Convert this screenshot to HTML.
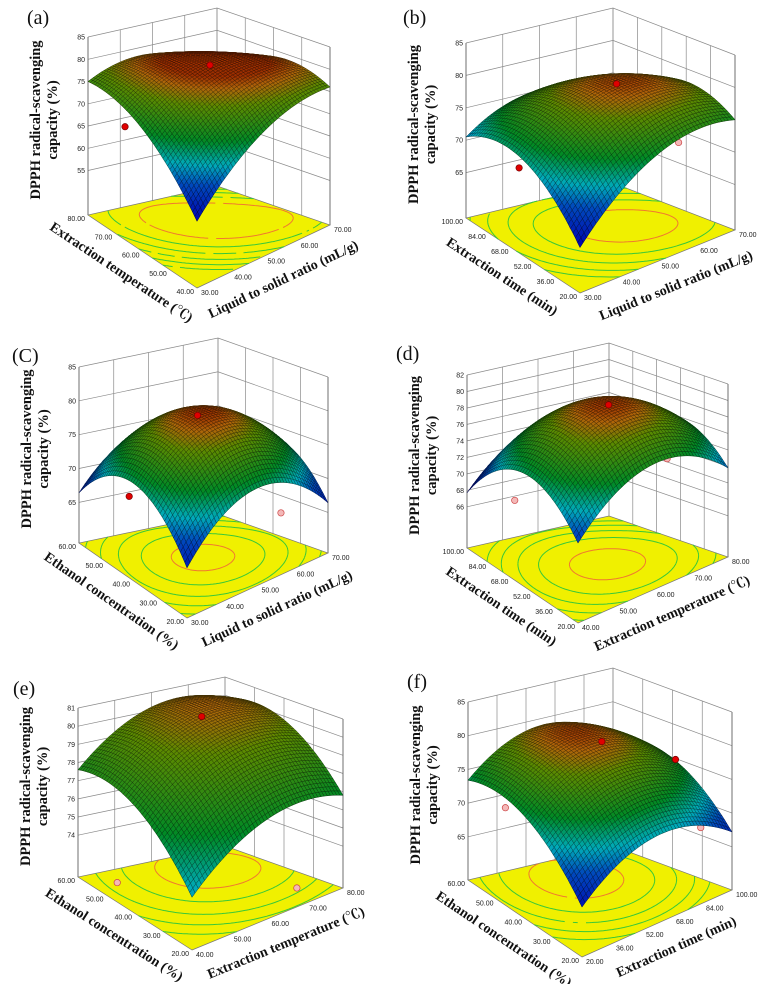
<!DOCTYPE html>
<html><head><meta charset="utf-8">
<style>
html,body{margin:0;padding:0;background:#fff;}
svg{display:block;}
text{font-family:"Liberation Serif","Noto Serif CJK SC",serif;}
.tk{font-family:"Liberation Sans","Noto Sans CJK SC",sans-serif;font-size:7px;fill:#222;}
.ttl{font-weight:bold;font-size:14px;fill:#111;}
.zt{font-weight:bold;font-size:14.5px;fill:#111;}
.pl{font-size:20px;fill:#111;}
</style></head>
<body>
<svg id="fig" width="760" height="984" viewBox="0 0 760 984" xmlns="http://www.w3.org/2000/svg"></svg>
<script>
// ---- data: quadratic model coefficients [a,b,c,d,e,f]: z = a + b u + c v + d u^2 + e v^2 + f u v
const coefA = [60, 36, 35, -20, -20, -20];
const coefB = [65, 28, 25.5, -18, -20, -10];
const coefC = [66.4, 28, 28, -28, -28, 0];
const coefD = [70.7, 21.1, 19, -20, -22, 0];
const coefE = [74.6, 8.2, 9, -6, -6, 0];
const coefF = [66, 21.2, 23.4, -20, -16, 0];
// z-axis ticks
const zTicksA = [55, 60, 65, 70, 75, 80, 85];
const zTicksB = [65, 70, 75, 80, 85];
const zTicksC = [65, 70, 75, 80, 85];
const zTicksD = [66, 68, 70, 72, 74, 76, 78, 80, 82];
const zTicksE = [74, 75, 76, 77, 78, 79, 80, 81];
const zTicksF = [65, 70, 75, 80, 85];
// floor ticks (u: front->right edge, v: front->left edge)
const uTicksA = ["30.00","40.00","50.00","60.00","70.00"];
const vTicksA = ["40.00","50.00","60.00","70.00","80.00"];
const uTicksB = ["30.00","40.00","50.00","60.00","70.00"];
const vTicksB = ["20.00","36.00","52.00","68.00","84.00","100.00"];
const uTicksC = ["30.00","40.00","50.00","60.00","70.00"];
const vTicksC = ["20.00","30.00","40.00","50.00","60.00"];
const uTicksD = ["40.00","50.00","60.00","70.00","80.00"];
const vTicksD = ["20.00","36.00","52.00","68.00","84.00","100.00"];
const uTicksE = ["40.00","50.00","60.00","70.00","80.00"];
const vTicksE = ["20.00","30.00","40.00","50.00","60.00"];
const uTicksF = ["20.00","36.00","52.00","68.00","84.00","100.00"];
const vTicksF = ["20.00","30.00","40.00","50.00","60.00"];
// contour levels
const levelsA = [79, 77, 75, 73, 71, 69];
const levelsB = [79, 77, 75, 73, 71];
const levelsC = [79.5, 77, 74, 71, 68];
const levelsD = [79.5, 77.5, 75.5, 73.5, 71.5];
const levelsE = [80.3, 79.5, 78.5, 77.5, 76.5];
const levelsF = [79, 77, 75, 73, 71];
// design points [u, v, z, onSurface(1)/below(0)]
const dotsA = [[0.6,0.6,79.5,1],[0.05,0.72,69,1],[0.95,0.45,68,0]];
const dotsB = [[0.62,0.5,79.8,1],[0.05,0.6,70,1],[0.95,0.4,69,0]];
const dotsC = [[0.5,0.55,79.5,1],[0.05,0.6,70,1],[0.9,0.3,64,0]];
const dotsD = [[0.55,0.45,80,1],[0.1,0.7,69,0],[0.95,0.45,71,0]];
const dotsE = [[0.62,0.72,80.3,1],[0.15,0.85,71.7,0],[0.85,0.2,71.7,0]];
const dotsF = [[0.6,0.6,79.5,1],[0.9,0.35,76.5,1],[0.1,0.8,71,0],[0.95,0.2,67,0]];
// colour ranges
const cRangeA=[60,80], cRangeB=[65,80.5], cRangeC=[65,80.5], cRangeD=[68,80.5], cRangeE=[70,81.5], cRangeF=[65,80.5];

const NS="http://www.w3.org/2000/svg";
const svg=document.getElementById('fig');
function el(tag,attrs,parent){const e=document.createElementNS(NS,tag);for(const k in attrs)e.setAttribute(k,attrs[k]);(parent||svg).appendChild(e);return e;}

const stops=[[0,[0,0,190]],[0.28,[0,80,205]],[0.43,[0,185,200]],[0.6,[0,150,40]],[0.84,[100,150,0]],[0.94,[190,110,10]],[1,[170,50,0]]];
function cmap(t){t=Math.max(0,Math.min(1,t));for(let i=1;i<stops.length;i++){if(t<=stops[i][0]){const s0=stops[i-1],s1=stops[i];const f=(t-s0[0])/(s1[0]-s0[0]);return s0[1].map((c,k)=>c+(s1[1][k]-c)*f);}}return stops[stops.length-1][1];}
function rgb(c,m){return 'rgb('+c.map(x=>Math.round(x*m)).join(',')+')';}

function panel(o){
  const g=el('g',{});
  
  
  const F=o.F,R=o.R,L=o.L,B=[o.Bt[0],o.Bt[1]+o.H];
  const zmin=o.zmin,zmax=o.zTicks[o.zTicks.length-1];
  const k=o.H/(zmax-zmin);
  const c=o.coef;
  function Z(u,v){return c[0]+c[1]*u+c[2]*v+c[3]*u*u+c[4]*v*v+c[5]*u*v;}
  function P(u,v,z){const x=(1-u)*(1-v)*F[0]+u*(1-v)*R[0]+(1-u)*v*L[0]+u*v*B[0];let y=(1-u)*(1-v)*F[1]+u*(1-v)*R[1]+(1-u)*v*L[1]+u*v*B[1];y-=(z-zmin)*k;return [x,y];}
  const f2=p=>p[0].toFixed(1)+','+p[1].toFixed(1);
  const walls=el('g',{stroke:'#8a8a8a','stroke-width':0.7,fill:'none'},g);
  
  
  o.zTicks.forEach(z=>{el('polyline',{points:[P(0,1,z),P(1,1,z),P(1,0,z)].map(f2).join(' ')},walls);});
  o.uTicks.forEach((t,i)=>{const u=i/(o.uTicks.length-1);el('line',{x1:P(u,1,zmin)[0],y1:P(u,1,zmin)[1],x2:P(u,1,zmax)[0],y2:P(u,1,zmax)[1]},walls);});
  o.vTicks.forEach((t,i)=>{const v=i/(o.vTicks.length-1);el('line',{x1:P(1,v,zmin)[0],y1:P(1,v,zmin)[1],x2:P(1,v,zmax)[0],y2:P(1,v,zmax)[1]},walls);});
  el('line',{x1:L[0],y1:L[1],x2:P(0,1,zmax)[0],y2:P(0,1,zmax)[1],stroke:'#555'},walls);
  el('line',{x1:R[0],y1:R[1],x2:P(1,0,zmax)[0],y2:P(1,0,zmax)[1],stroke:'#555'},walls);
  const fl=el('polygon',{points:[F,R,B,L].map(f2).join(' '),fill:'#f0f000',stroke:'#777','stroke-width':0.7},g);
  
  
  const M=60,cg=el('g',{fill:'none','stroke-width':1},g);
  
  
  o.levels.forEach((lv,li)=>{
    let d='';
    for(let i=0;i<M;i++)for(let j=0;j<M;j++){
      const u0=i/M,u1=(i+1)/M,v0=j/M,v1=(j+1)/M;
      const corners=[[u0,v0],[u1,v0],[u1,v1],[u0,v1]];
      const zs=corners.map(p=>Z(p[0],p[1]));
      const pts=[];
      for(let e=0;e<4;e++){const a=e,b=(e+1)%4;if((zs[a]-lv)*(zs[b]-lv)<0){const t=(lv-zs[a])/(zs[b]-zs[a]);pts.push([corners[a][0]+(corners[b][0]-corners[a][0])*t,corners[a][1]+(corners[b][1]-corners[a][1])*t]);}}
      if(pts.length>=2){d+='M'+f2(P(pts[0][0],pts[0][1],zmin))+'L'+f2(P(pts[1][0],pts[1][1],zmin));}
      if(pts.length===4){d+='M'+f2(P(pts[2][0],pts[2][1],zmin))+'L'+f2(P(pts[3][0],pts[3][1],zmin));}
    }
    const pth=el('path',{d:d,stroke:li===0?'#f07830':'#38c838'},cg);
    
    
  });
  function dot(dd){const p=P(dd[0],dd[1],dd[2]);
    const cc=el('circle',{cx:p[0],cy:p[1],r:3.2,fill:dd[3]?'#e00000':'#f4b8b8',stroke:dd[3]?'#700':'#c44','stroke-width':0.7},g);
    
    }
  o.dots.filter(d=>!d[3]).forEach(dot);
  const N=48,sg=el('g',{'stroke-width':0.5},g);
  
  
  const cells=[];
  for(let i=0;i<N;i++)for(let j=0;j<N;j++)cells.push([i,j]);
  cells.sort((a,b)=>(b[0]+b[1])-(a[0]+a[1]));
  cells.forEach(([i,j])=>{
    const u0=i/N,u1=(i+1)/N,v0=j/N,v1=(j+1)/N;
    const zc=Z((u0+u1)/2,(v0+v1)/2);
    const col=cmap((zc-o.cRange[0])/(o.cRange[1]-o.cRange[0]));
    const pts=[P(u0,v0,Z(u0,v0)),P(u1,v0,Z(u1,v0)),P(u1,v1,Z(u1,v1)),P(u0,v1,Z(u0,v1))];
    el('polygon',{points:pts.map(f2).join(' '),fill:rgb(col,0.92),stroke:rgb(col,0.4)},sg);
  });
  o.dots.filter(d=>d[3]).forEach(dot);
  o.zTicks.forEach(z=>{const p=P(0,1,z);const t=el('text',{x:p[0]-3,y:p[1]+2.5,'text-anchor':'end',class:'tk'},g);t.textContent=z;
    
    });
  o.vTicks.forEach((s,i)=>{const p=P(0,i/(o.vTicks.length-1),zmin);const t=el('text',{x:p[0]-3,y:p[1]+6,'text-anchor':'end',class:'tk'},g);t.textContent=s;
    
    });
  o.uTicks.forEach((s,i)=>{const p=P(i/(o.uTicks.length-1),0,zmin);const t=el('text',{x:p[0]+4,y:p[1]+7,'text-anchor':'start',class:'tk'},g);t.textContent=s;
    
    });
  const cx=(F[0]+R[0]+L[0]+B[0])/4, cy=(F[1]+R[1]+L[1]+B[1])/4;
  function edgeTitle(A,C,txt,name,dist,shift){
    let dx=C[0]-A[0],dy=C[1]-A[1];const len=Math.hypot(dx,dy);
    const mx=(A[0]+C[0])/2+dx/len*shift,my=(A[1]+C[1])/2+dy/len*shift;
    let nx=dy/len,ny=-dx/len;if(nx*(mx-cx)+ny*(my-cy)<0){nx=-nx;ny=-ny;}
    const px=mx+nx*dist,py=my+ny*dist;const ang=Math.atan2(dy,dx)*180/Math.PI;
    const t=el('text',{x:px,y:py,'text-anchor':'middle','dominant-baseline':'central',class:'ttl',transform:'rotate('+ang.toFixed(1)+' '+px.toFixed(1)+' '+py.toFixed(1)+')'},g);
    t.textContent=txt;
    
    
  }
  edgeTitle(L,F,o.vTitle,'left-axis-title',30,-6);
  edgeTitle(F,R,o.uTitle,'right-axis-title',30,8);
  const Lt=P(0,1,zmax);const zy=(Lt[1]+L[1])/2-6;
  [[o.zT1,-52],[o.zT2,-35]].forEach(([s,off],i)=>{const x=L[0]+off;
    const t=el('text',{x:x,y:zy,'text-anchor':'middle','dominant-baseline':'central',class:'zt',transform:'rotate(-90 '+x+' '+zy.toFixed(1)+')'},g);
    t.textContent=s;
    
    });
  const lb=el('text',{x:o.lab[0],y:o.lab[1],class:'pl'},g);lb.textContent=o.label;
  
  
}
const Z1="DPPH radical-scavenging",Z2="capacity (%)";
panel({id:'a',label:'(a)',lab:[27,24],F:[197,288],R:[330,225],L:[88,215],Bt:[217,8],H:178,zmin:45,coef:coefA,zTicks:zTicksA,uTicks:uTicksA,vTicks:vTicksA,levels:levelsA,dots:dotsA,cRange:cRangeA,vTitle:'Extraction temperature (℃)',uTitle:'Liquid to solid ratio (mL/g)',zT1:Z1,zT2:Z2});
panel({id:'b',label:'(b)',lab:[403,24],F:[580,293],R:[735,230],L:[466,218],Bt:[613,8],H:175,zmin:58,coef:coefB,zTicks:zTicksB,uTicks:uTicksB,vTicks:vTicksB,levels:levelsB,dots:dotsB,cRange:cRangeB,vTitle:'Extraction time (min)',uTitle:'Liquid to solid ratio (mL/g)',zT1:Z1,zT2:Z2});
panel({id:'c',label:'(C)',lab:[12,362],F:[187,618],R:[328,553],L:[79,543],Bt:[218,338],H:176,zmin:59,coef:coefC,zTicks:zTicksC,uTicks:uTicksC,vTicks:vTicksC,levels:levelsC,dots:dotsC,cRange:cRangeC,vTitle:'Ethanol concentration (%)',uTitle:'Liquid to solid ratio (mL/g)',zT1:Z1,zT2:Z2});
panel({id:'d',label:'(d)',lab:[396,360],F:[578,623],R:[728,557],L:[467,548],Bt:[609,343],H:173,zmin:61,coef:coefD,zTicks:zTicksD,uTicks:uTicksD,vTicks:vTicksD,levels:levelsD,dots:dotsD,cRange:cRangeD,vTitle:'Extraction time (min)',uTitle:'Extraction temperature (℃)',zT1:Z1,zT2:Z2});
panel({id:'e',label:'(e)',lab:[13,695],F:[192,950],R:[343,888],L:[78,877],Bt:[225,677],H:169,zmin:71.7,coef:coefE,zTicks:zTicksE,uTicks:uTicksE,vTicks:vTicksE,levels:levelsE,dots:dotsE,cRange:cRangeE,vTitle:'Ethanol concentration (%)',uTitle:'Extraction temperature (℃)',zT1:Z1,zT2:Z2});
panel({id:'f',label:'(f)',lab:[407,688],F:[582,957],R:[732,890],L:[468,880],Bt:[613,668],H:178,zmin:58.6,coef:coefF,zTicks:zTicksF,uTicks:uTicksF,vTicks:vTicksF,levels:levelsF,dots:dotsF,cRange:cRangeF,vTitle:'Ethanol concentration (%)',uTitle:'Extraction time (min)',zT1:Z1,zT2:Z2});
</script>
</body></html>
